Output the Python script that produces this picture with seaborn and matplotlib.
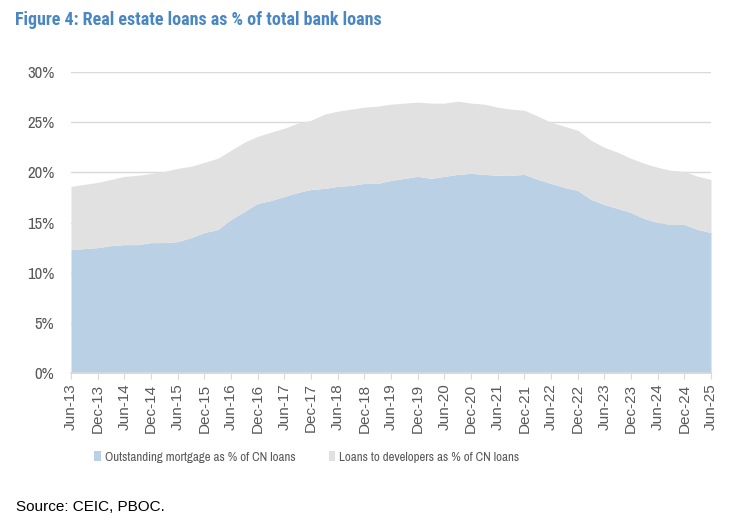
import numpy as np
import pandas as pd
import seaborn as sns
import matplotlib.pyplot as plt
from matplotlib.patches import Patch

# Quarterly data, Jun-13 to Jun-25
quarters = pd.period_range('2013Q2', '2025Q2', freq='Q')
mortgage = [12.3, 12.4, 12.5, 12.7, 12.8, 12.8, 13.0, 13.0, 13.1, 13.5,
            14.0, 14.3, 15.3, 16.1, 16.9, 17.2, 17.6, 18.0, 18.3, 18.4,
            18.6, 18.7, 18.9, 18.9, 19.2, 19.4, 19.6, 19.4, 19.6, 19.8,
            19.9, 19.8, 19.7, 19.7, 19.8, 19.3, 18.9, 18.5, 18.2, 17.3,
            16.8, 16.4, 16.0, 15.4, 15.0, 14.8, 14.8, 14.3, 14.0]
developers = [6.3, 6.4, 6.5, 6.6, 6.8, 6.9, 6.9, 7.1, 7.3, 7.1,
              7.0, 7.1, 6.9, 6.9, 6.7, 6.8, 6.8, 6.9, 6.9, 7.4,
              7.5, 7.6, 7.6, 7.7, 7.6, 7.5, 7.4, 7.5, 7.3, 7.3,
              7.0, 7.0, 6.8, 6.6, 6.4, 6.3, 6.1, 6.1, 6.0, 5.9,
              5.7, 5.6, 5.4, 5.5, 5.5, 5.4, 5.3, 5.3, 5.3]
tick_labels = [q.strftime('%b-%y') for q in quarters[::2]]

series_names = ['Outstanding mortgage as % of CN loans',
                'Loans to developers as % of CN loans']
colors = ['#b9d0e5', '#e1e1e1']

df = pd.DataFrame({'x': np.arange(len(quarters)),
                   series_names[0]: mortgage,
                   series_names[1]: developers})

sns.set_theme(style='white')
narrow = ['Archivo Narrow', 'Liberation Sans', 'DejaVu Sans']
plt.rcParams['font.family'] = narrow

fig = plt.figure(figsize=(7.34, 5.22), dpi=100)
ax = fig.add_axes([0.0967, 0.2854, 0.872, 0.5766])

ax.stackplot(df['x'], df[series_names[0]], df[series_names[1]],
             colors=colors, linewidth=0, zorder=2)

ax.set_xlim(0, len(quarters) - 1)
ax.set_ylim(0, 30)
ax.set_yticks(np.arange(0, 31, 5))
ax.set_yticklabels([f'{v}%' for v in range(0, 31, 5)])
ax.yaxis.grid(True, color='#d9d9d9', linewidth=1, zorder=1)
ax.xaxis.grid(False)
ax.set_xticks(df['x'][::2])
ax.set_xticklabels(tick_labels, rotation=90, family=['Liberation Sans', 'DejaVu Sans'])
ax.tick_params(axis='x', colors='#595959', labelsize=11, length=4,
               width=0.8, direction='out', bottom=True, color='#d9d9d9')
ax.tick_params(axis='y', colors='#595959', labelsize=12, length=0, pad=12)
ax.set_axisbelow(True)
sns.despine(ax=ax, left=True, top=True, right=True)
ax.spines['bottom'].set_color('#d9d9d9')

handles = [Patch(facecolor=c, edgecolor='none') for c in colors]
fig.legend(handles, series_names, loc='center', bbox_to_anchor=(0.418, 0.1245),
           ncol=2, frameon=False, handlelength=0.5, handleheight=0.7,
           handletextpad=0.3, columnspacing=2.6, labelcolor='#595959',
           fontsize=9.3)

fig.text(0.02, 0.962, 'Figure 4: Real estate loans as % of total bank loans',
         color='#4a87c2', fontsize=13, fontweight='bold', va='center', ha='left',
         family=['Roboto Condensed', 'Fira Sans Condensed', 'Archivo Narrow', 'DejaVu Sans'])
fig.text(0.022, 0.029, 'Source: CEIC, PBOC.', color='black', fontsize=11,
         va='center', ha='left', family=['Liberation Sans', 'DejaVu Sans'])

fig.savefig('out.png', dpi=100)
